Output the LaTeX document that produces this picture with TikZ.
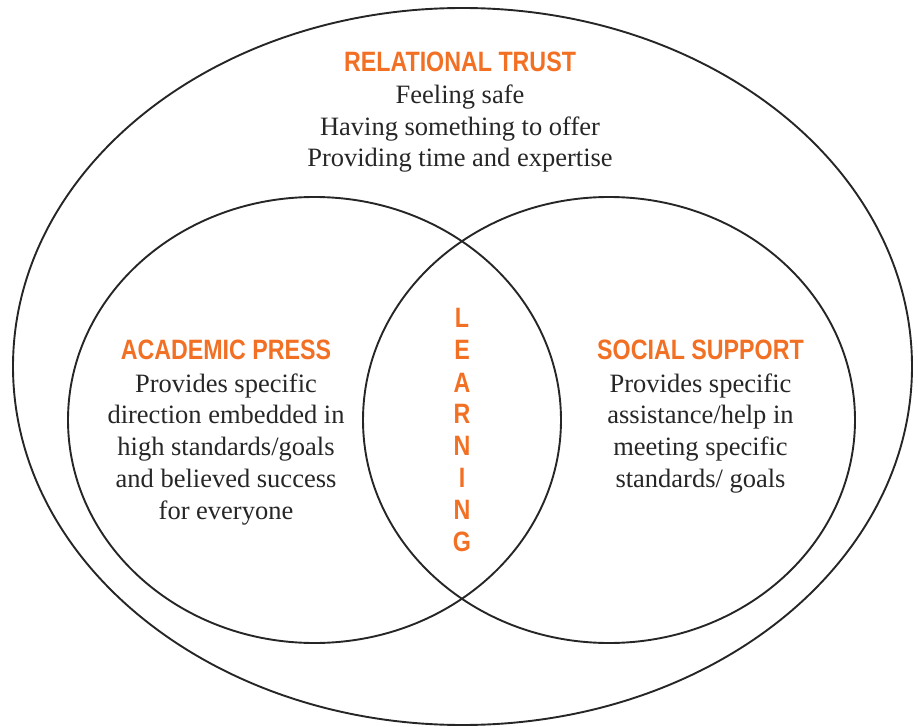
\documentclass[tikz,border=0pt]{standalone}
\usepackage{fontspec}
\setmainfont{Liberation Serif}
\newfontfamily\headfont[FakeStretch=0.83]{Liberation Sans Bold}
\definecolor{headorange}{RGB}{242,112,36}
\tikzset{
  ring/.style={draw=black!85, line width=1.9pt},
  head/.style={anchor=base, inner sep=0pt, text=headorange, font=\headfont\fontsize{28}{28}\selectfont},
  body/.style={anchor=base, inner sep=0pt, text=black!85, font=\fontsize{26.5}{31.7}\selectfont},
  letter/.style={anchor=base, inner sep=0pt, text=headorange, font=\headfont\fontsize{28}{28}\selectfont},
}
\begin{document}
\begin{tikzpicture}[x=1pt,y=-1pt]
\useasboundingbox (0,0) rectangle (918,727);
% shapes
\draw[ring] (462.5,366.5) ellipse [x radius=449.5, y radius=358.5];
\draw[ring] (314.5,420) ellipse [x radius=246.5, y radius=223];
\draw[ring] (609,420) ellipse [x radius=246, y radius=223];
% relational trust
\node[head] (rt) at (460,72) {RELATIONAL TRUST};
\node[body] (rt1) at (460,104) {Feeling safe};
\node[body] (rt2) at (460,136) {Having something to offer};
\node[body] (rt3) at (460,167) {Providing time and expertise};
% academic press
\node[head] (ap) at (226,359) {ACADEMIC PRESS};
\node[body] (ap1) at (226,392) {Provides specific};
\node[body] (ap2) at (226,423) {direction embedded in};
\node[body] (ap3) at (226,455) {high standards/goals};
\node[body] (ap4) at (226,487) {and believed success};
\node[body] (ap5) at (226,519) {for everyone};
% social support
\node[head] (ss) at (700.5,359) {SOCIAL SUPPORT};
\node[body] (ss1) at (700.5,392) {Provides specific};
\node[body] (ss2) at (700.5,423) {assistance/help in};
\node[body] (ss3) at (700.5,455) {meeting specific};
\node[body] (ss4) at (700.5,487) {standards/ goals};
% learning
\node[letter] (l1) at (462,327) {L};
\node[letter] (l2) at (462,359) {E};
\node[letter] (l3) at (462,392) {A};
\node[letter] (l4) at (462,423) {R};
\node[letter] (l5) at (462,455) {N};
\node[letter] (l6) at (462,487) {I};
\node[letter] (l7) at (462,519) {N};
\node[letter] (l8) at (462,551) {G};
\end{tikzpicture}
\end{document}
